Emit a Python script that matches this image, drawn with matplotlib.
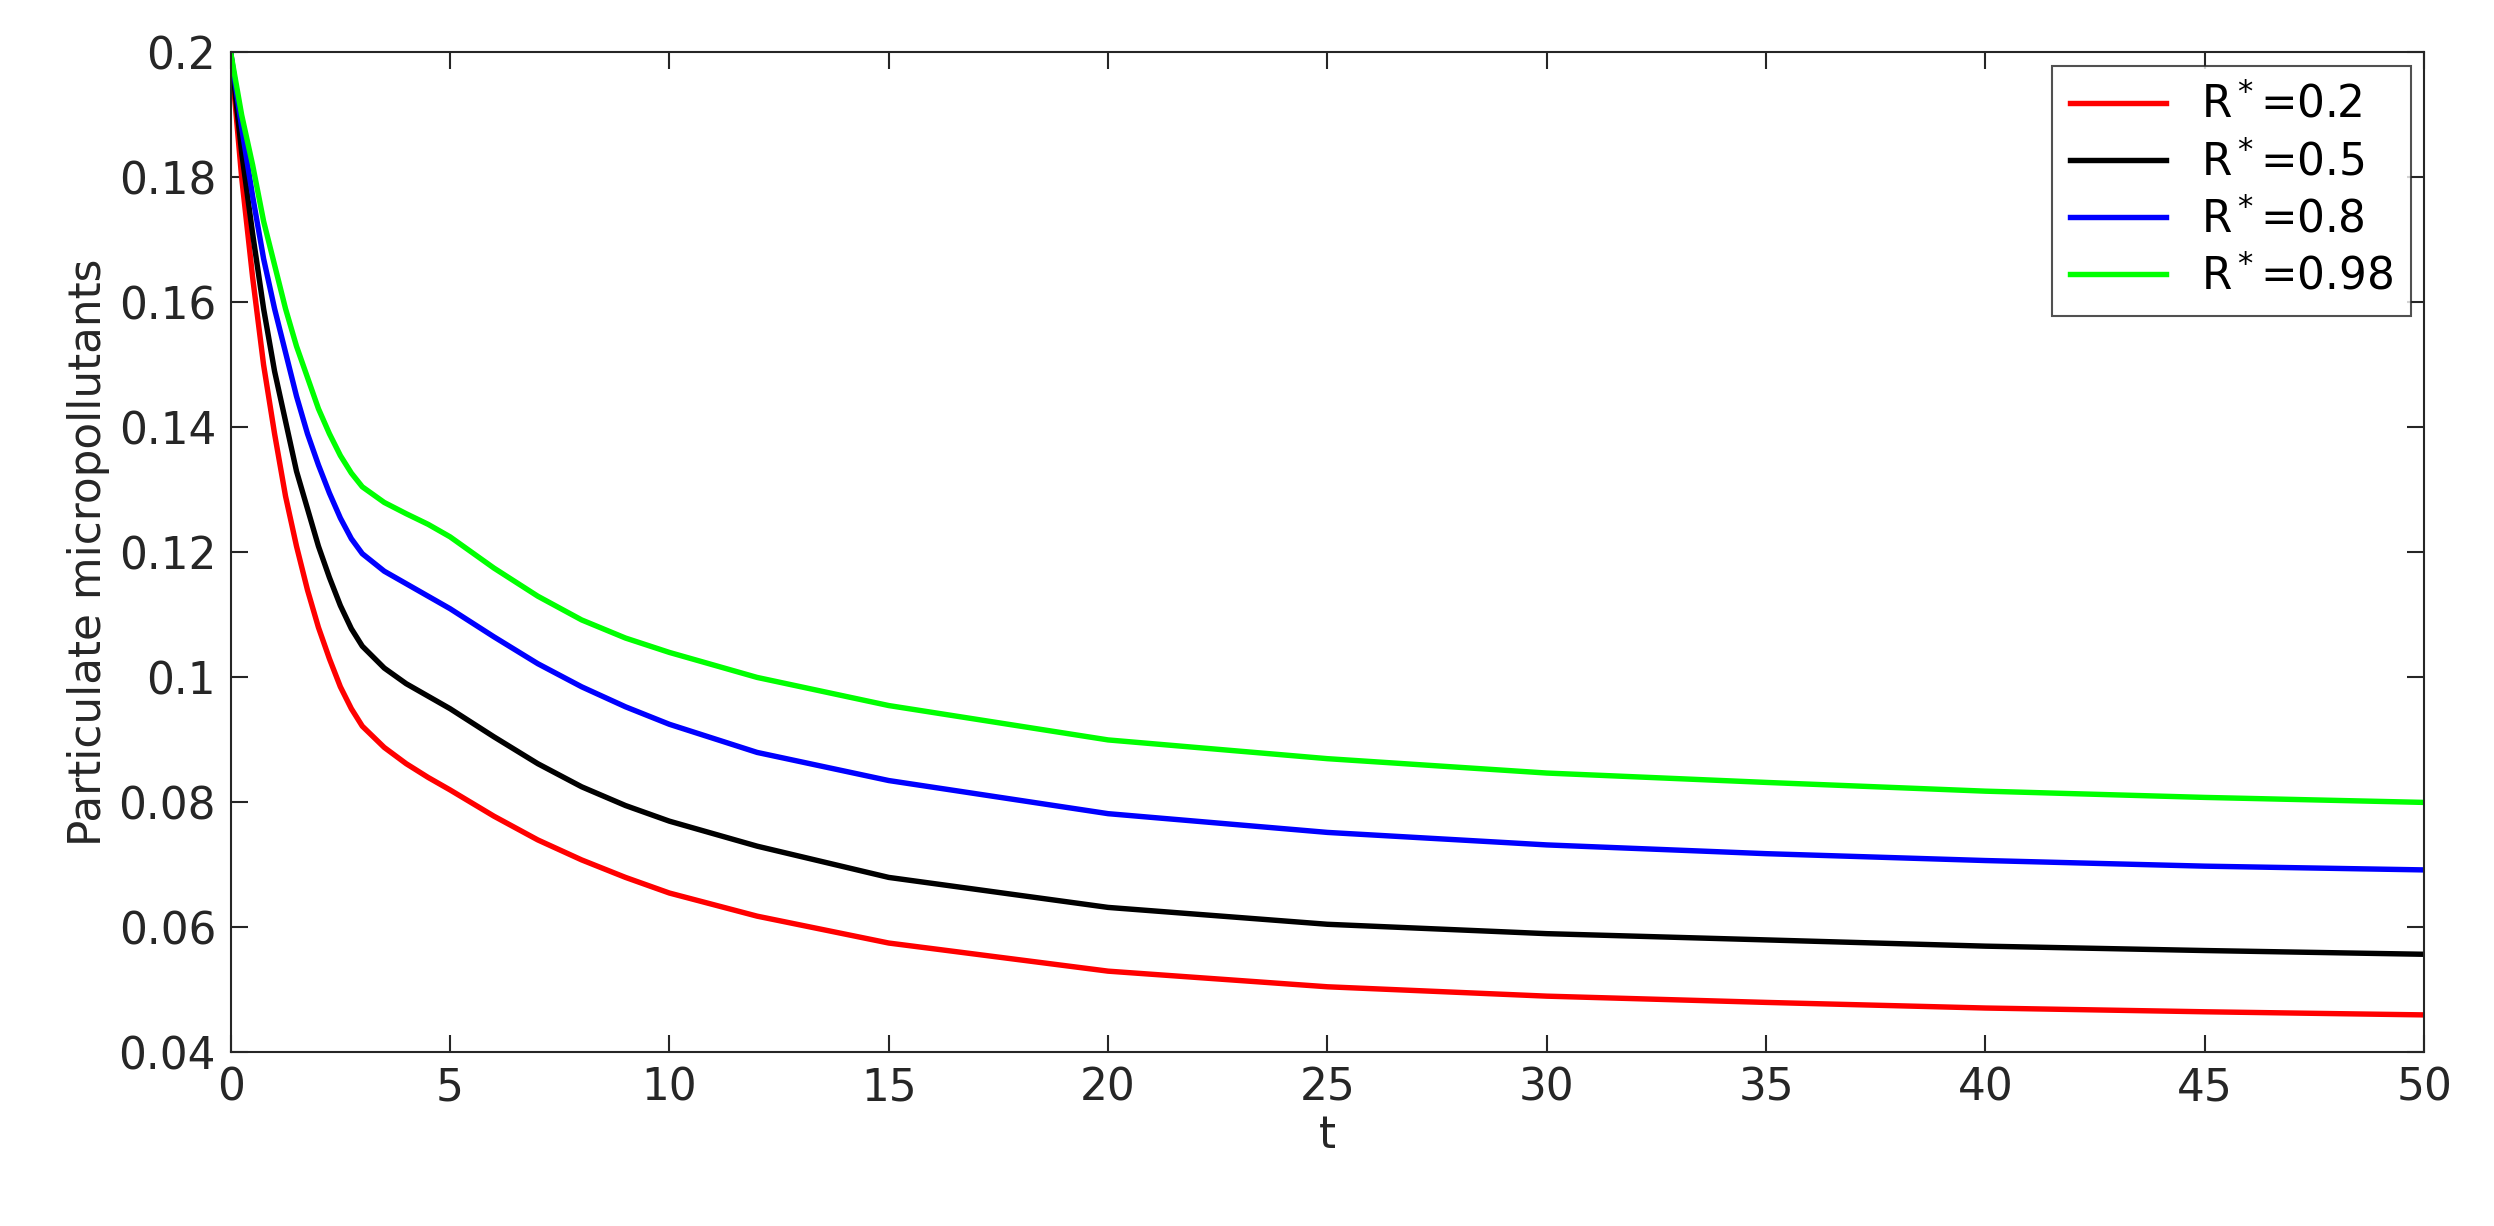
import matplotlib
matplotlib.use("Agg")
import matplotlib.pyplot as plt

t = [0, 0.25, 0.5, 0.75, 1, 1.25, 1.5, 1.75, 2, 2.25, 2.5, 2.75, 3, 3.5, 4, 4.5, 5, 6, 7, 8, 9, 10, 12, 15, 20, 25, 30, 35, 40, 45, 50]
red = [0.2, 0.180, 0.164, 0.150, 0.139, 0.129, 0.121, 0.114, 0.108, 0.103, 0.0985, 0.0950, 0.0922, 0.0888, 0.0862, 0.0840, 0.0820, 0.0778, 0.0740, 0.0708, 0.0680, 0.0655, 0.0618, 0.0575, 0.0530, 0.0505, 0.0490, 0.0480, 0.0471, 0.0465, 0.0460]
black = [0.2, 0.184, 0.171, 0.159, 0.149, 0.141, 0.133, 0.127, 0.121, 0.116, 0.1115, 0.1078, 0.1050, 0.1015, 0.0990, 0.0970, 0.0950, 0.0905, 0.0862, 0.0825, 0.0795, 0.0770, 0.0730, 0.0680, 0.0632, 0.0605, 0.0590, 0.0580, 0.0570, 0.0563, 0.0557]
blue = [0.2, 0.188, 0.177, 0.167, 0.159, 0.152, 0.145, 0.139, 0.134, 0.1295, 0.1255, 0.1222, 0.1198, 0.1170, 0.1150, 0.1130, 0.1110, 0.1065, 0.1022, 0.0985, 0.0953, 0.0925, 0.0880, 0.0835, 0.0782, 0.0752, 0.0732, 0.0718, 0.0707, 0.0698, 0.0692]
green = [0.2, 0.190, 0.182, 0.173, 0.166, 0.159, 0.153, 0.148, 0.143, 0.1390, 0.1355, 0.1327, 0.1305, 0.1280, 0.1262, 0.1245, 0.1225, 0.1175, 0.1130, 0.1092, 0.1063, 0.1040, 0.1000, 0.0955, 0.0900, 0.0870, 0.0847, 0.0832, 0.0818, 0.0808, 0.0800]
labels = [r"R$^*$=0.2", r"R$^*$=0.5", r"R$^*$=0.8", r"R$^*$=0.98"]
colors = ["#ff0000", "#000000", "#0000ff", "#00ff00"]

plt.rcParams['font.family'] = ['DejaVu Sans']
fig = plt.figure(figsize=(2494/300, 1226/300), dpi=300)
ax = fig.add_axes([0.0925, 0.1416, 0.8795, 0.8156])
for y, c, l in zip([red, black, blue, green], colors, labels):
    ax.plot(t, y, color=c, lw=1.3, label=l)
ax.set_xlim(0, 50)
ax.set_ylim(0.04, 0.2)
ax.set_xticks(range(0, 51, 5))
ax.set_yticks([0.04, 0.06, 0.08, 0.1, 0.12, 0.14, 0.16, 0.18, 0.2])
ax.set_yticklabels(["0.04", "0.06", "0.08", "0.1", "0.12", "0.14", "0.16", "0.18", "0.2"])
ax.tick_params(direction='in', top=True, right=True, labelsize=10.5, width=0.5, length=4, colors='#262626')
for s in ax.spines.values():
    s.set_linewidth(0.5)
    s.set_color('#262626')
ax.set_xlabel("t", fontsize=10.5, color='#262626', labelpad=1)
ax.set_ylabel("Particulate micropollutants", fontsize=10.5, color='#262626', labelpad=2)
leg = ax.legend(loc='upper right', fontsize=10.5, fancybox=False, edgecolor='#262626',
                borderaxespad=0.3, handlelength=2.2, labelspacing=0.3)
leg.get_frame().set_linewidth(0.5)
fig.savefig("out.png", dpi=300)
